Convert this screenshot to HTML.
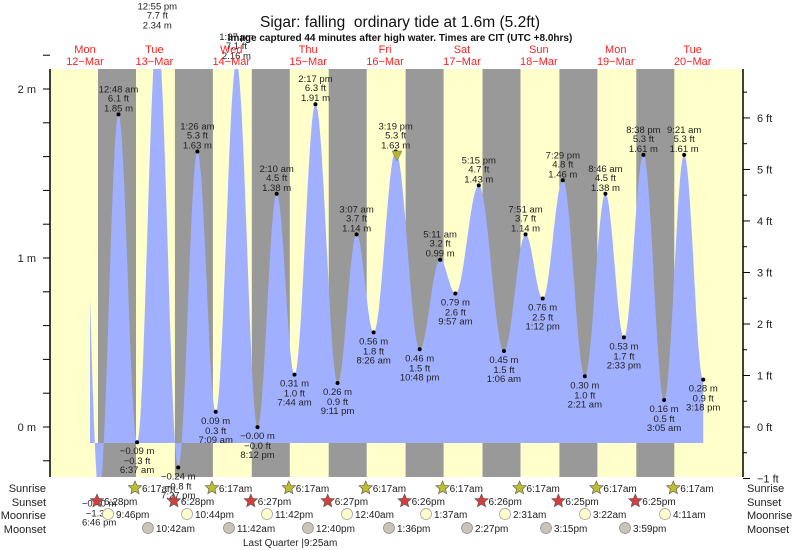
<!DOCTYPE html>
<html><head><meta charset="utf-8"><style>
body{margin:0;background:#fff;}
svg{display:block;font-family:"Liberation Sans",sans-serif;}
</style></head><body>
<svg id="s" width="793" height="550" xmlns="http://www.w3.org/2000/svg"></svg>
<script>
const S=document.getElementById('s');
let h='';
const X0=39,D=76.9,Y0=427,PM=169,PT=69,PB=477,PL=50,PR=743;
const xT=t=>X0+D*t, yM=m=>Y0-PM*m;
h+=`<rect x="${PL}" y="${PT}" width="${PR-PL}" height="${PB-PT}" fill="#ffffcc"/>`;
for(let k=0;k<8;k++){h+=`<rect x="${98+D*k}" y="${PT}" width="38" height="${PB-PT}" fill="#999"/>`;}
const E=[[0,12,40,2.2],[0,18,46,-0.40],[1,0,48,1.85],[1,6,37,-0.09],[1,12,55,2.34],[1,19,27,-0.24],[2,1,26,1.63],[2,7,9,0.09],[2,13,37,2.16],[2,20,12,-0.001],[3,2,10,1.38],[3,7,44,0.31],[3,14,17,1.91],[3,21,11,0.26],[4,3,7,1.14],[4,8,26,0.56],[4,15,19,1.63],[4,22,48,0.46],[5,5,11,0.99],[5,9,57,0.79],[5,17,15,1.43],[6,1,6,0.45],[6,7,51,1.14],[6,13,12,0.76],[6,19,29,1.46],[7,2,21,0.30],[7,8,46,1.38],[7,14,33,0.53],[7,20,38,1.61],[8,3,5,0.16],[8,9,21,1.61],[8,15,18,0.28]];
const P=E.map(e=>[e[0]+(e[1]+e[2]/60)/24,e[3]]);
const t0=(90-X0)/D;
let pts=[];
for(let i=0;i<P.length-1;i++){const[a,ha]=P[i],[b,hb]=P[i+1];
 for(let j=0;j<=30;j++){const t=a+(b-a)*j/30;if(t<t0)continue;const v=ha+(hb-ha)*(1-Math.cos(Math.PI*j/30))/2;pts.push([xT(t),yM(v)]);}}
const BL=443;
let d=`M${pts[0][0].toFixed(1)},${BL} `+pts.map(p=>`L${p[0].toFixed(1)},${p[1].toFixed(1)}`).join(' ')+` L${pts[pts.length-1][0].toFixed(1)},${BL}Z`;
h+=`<defs><clipPath id="c"><rect x="${PL}" y="${PT}" width="${PR-PL}" height="${PB-PT}"/></clipPath></defs>`;
h+=`<path d="${d}" fill="#a0b0ff" clip-path="url(#c)"/>`;
const fmt=e=>{let hh=e[1],ap=hh<12?'am':'pm';hh=hh%12;if(hh==0)hh=12;return `${hh}:${String(e[2]).padStart(2,'0')} ${ap}`;};
const T=(x,y,s,o={})=>`<text x="${x}" y="${y}" font-size="${o.fs||9.5}" fill="${o.c||'#222'}" text-anchor="${o.a||'middle'}"${o.w?` font-weight="${o.w}"`:''}>${s}</text>`;
for(let i=1;i<E.length;i++){const e=E[i];const x=xT(P[i][0]),y=yM(e[3]);
 const m=(e[3]<0?'−':'')+Math.abs(e[3]).toFixed(2)+' m', ftv=e[3]*3.2808, ft=(ftv<0?'−':'')+Math.abs(ftv).toFixed(1)+' ft';
 const hi=(i%2==0);
 if(y>PT&&y<PB)h+=`<circle cx="${x}" cy="${y}" r="2" fill="#000"/>`;
 if(hi){h+=T(x,y-22,fmt(e))+T(x,y-13,ft)+T(x,y-3,m);}
 else{h+=T(x,y+12,m)+T(x,y+22,ft)+T(x,y+31,fmt(e));}
}
h+=`<polygon points="392,151 402,151 397,161" fill="#b5b52a" stroke="#777" stroke-width="0.5"/>`;
h+=`<line x1="${PL}" y1="${PT}" x2="${PL}" y2="${PB}" stroke="#000" stroke-width="1.5"/><line x1="${PR}" y1="${PT}" x2="${PR}" y2="${PB}" stroke="#000" stroke-width="1.5"/>`;
for(let v=-0.2;v<=2.21;v+=0.2){const y=yM(v);h+=`<line x1="43" y1="${y}" x2="${PL}" y2="${y}" stroke="#000"/>`;}
[[0,'0 m'],[1,'1 m'],[2,'2 m']].forEach(a=>h+=T(36,yM(a[0])+4,a[1],{fs:11,a:'end'}));
for(let f=-1;f<=6.8;f+=0.5){const y=Y0-PM*f/3.2808;h+=`<line x1="${PR}" y1="${y}" x2="${PR+(f%1==0?7:4)}" y2="${y}" stroke="#000"/>`;if(f%1==0)h+=T(757,y+4,(f<0?'−':'')+Math.abs(f)+' ft',{fs:11,a:'start'});}
h+=T(400,27,'Sigar: falling&#160; ordinary tide at 1.6m (5.2ft)',{fs:15.5,c:'#111'});
h+=T(400,41,'Image captured 44 minutes after high water. Times are CIT (UTC +8.0hrs)',{fs:10,c:'#111',w:'bold'});
const days=['Mon','Tue','Wed','Thu','Fri','Sat','Sun','Mon','Tue'],dates=[12,13,14,15,16,17,18,19,20];
for(let k=0;k<9;k++){const x=k==0?85:X0+D*k+D/2;h+=T(x,53,days[k],{fs:11,c:'#f22'})+T(x,65,dates[k]+'−Mar',{fs:11,c:'#f22'});}
[['Sunrise',492],['Sunset',506],['Moonrise',519],['Moonset',533]].forEach(a=>{h+=T(46,a[1],a[0],{fs:11,a:'end'})+T(747,a[1],a[0],{fs:11,a:'start'});});
const star=(cx,cy,c)=>{let p=[];for(let i=0;i<10;i++){const r=i%2?3.2:7,an=-Math.PI/2+i*Math.PI/5;p.push((cx+r*Math.cos(an)).toFixed(1)+','+(cy+r*Math.sin(an)).toFixed(1));}return `<polygon points="${p.join(' ')}" fill="${c}" stroke="#555" stroke-width="0.6"/>`;};
for(let k=0;k<8;k++){const x=135+D*k;h+=star(x,488,'#bdbd30')+T(x+7,492,'6:17am',{fs:10,a:'start'});}
const ss=['6:28pm','6:28pm','6:27pm','6:27pm','6:26pm','6:26pm','6:25pm','6:25pm'];
for(let k=0;k<8;k++){const x=97+D*k;h+=star(x,501,'#d04040')+T(x+7,505,ss[k],{fs:10,a:'start'});}
const mr=[[108,'9:46pm'],[187,'10:44pm'],[267,'11:42pm'],[347,'12:40am'],[426,'1:37am'],[505,'2:31am'],[585,'3:22am'],[665,'4:11am']];
mr.forEach(a=>h+=`<circle cx="${a[0]}" cy="514" r="5.5" fill="#ffffcc" stroke="#999" stroke-width="0.7"/>`+T(a[0]+8,518,a[1],{fs:10,a:'start'}));
const ms=[[148,'10:42am'],[229,'11:42am'],[308,'12:40pm'],[389,'1:36pm'],[467,'2:27pm'],[546,'3:15pm'],[625,'3:59pm']];
ms.forEach(a=>h+=`<circle cx="${a[0]}" cy="528" r="5.5" fill="#c8c4bc" stroke="#888" stroke-width="0.7"/>`+T(a[0]+8,532,a[1],{fs:10,a:'start'}));
h+=T(243,546,'Last Quarter |9:25am',{fs:10,a:'start'});
S.innerHTML=h;
</script>
</body></html>
